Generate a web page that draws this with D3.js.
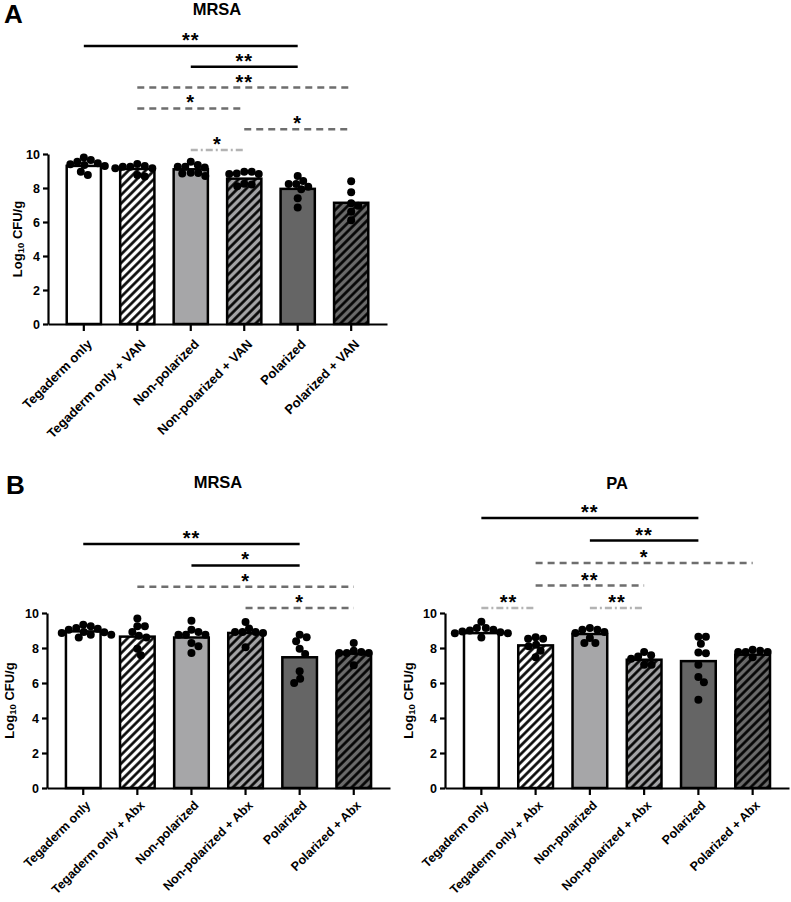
<!DOCTYPE html>
<html><head><meta charset="utf-8">
<script src="https://cdn.jsdelivr.net/npm/d3@7"></script>
<style>
body{margin:0;background:#fff}
svg{display:block}
text{font-family:"Liberation Sans",Arial,sans-serif;font-weight:bold;fill:#000}
</style>
</head><body>
<svg id="c" width="791" height="902"></svg>
<script>
// ---------------- data ----------------
const groupsA = ["Tegaderm only","Tegaderm only + VAN","Non-polarized","Non-polarized + VAN","Polarized","Polarized + VAN"];
const groupsB = ["Tegaderm only","Tegaderm only + Abx","Non-polarized","Non-polarized + Abx","Polarized","Polarized + Abx"];
const yTicks = [0,2,4,6,8,10];

const meansA = [9.3, 9.12, 9.1, 8.55, 7.95, 7.13];
const pointsA = [
  [9.65,9.55,9.45,9.35,9.4,9.8,8.96,8.76,9.3],
  [9.16,9.41,9.25,9.29,9.25,9.16,8.67,8.76],
  [9.25,9.35,9.55,9.2,8.7,8.85,8.88,8.9,9.25],
  [8.96,8.86,8.82,8.82,8.96,8.1,8.2,8.25],
  [8.71,8.41,8.24,8.24,8.08,7.92,7.39,6.86],
  [8.4,7.75,7.1,6.95,6.6,6.1]
];
const meansBMRSA = [8.95, 8.65, 8.6, 8.86, 7.47, 7.68];
const pointsBMRSA = [
  [9.33,9.05,8.76,8.91,8.86,8.76,9.14,9.24,8.6,9.1,8.9],
  [9.68,9.24,8.91,8.7,9.24,8.6,7.96,7.58],
  [9.56,9.05,8.76,8.76,8.76,8.91,7.71,8.29,8.1],
  [9.49,9.11,8.91,8.86,8.91,8.91,8.04],
  [8.61,8.76,8.38,7.96,7.66,6.67,6.25,6.0],
  [8.29,7.77,7.71,7.71,7.71,7.85,7.01]
];
const meansBPA = [8.85, 8.15, 8.8, 7.33, 7.25, 7.62];
const pointsBPA = [
  [9.5,9.05,8.9,9.15,9.0,8.85,9.15,8.6,8.85,8.95],
  [8.53,8.61,8.53,8.1,8.19,7.85,7.47],
  [9.14,9.05,8.86,9.05,8.91,8.29,8.29,8.57],
  [7.52,7.39,7.58,7.77,7.05,7.05],
  [8.65,8.65,8.25,7.7,7.75,7.05,6.35,6.05,5.05],
  [7.9,7.77,7.77,7.77,7.85,7.47]
];
// significance: [from group, to group, label, line style, stacking row]
const sigA = [
  [0,4,"**","solid",5],
  [2,4,"**","solid",4],
  [1,5,"**","dash",3],
  [1,3,"*","dash",2],
  [3,5,"*","dash",1],
  [2,3,"*","dashdot",0]
];
const sigBMRSA = [
  [0,4,"**","solid",3],
  [2,4,"*","solid",2],
  [1,5,"*","dash",1],
  [3,5,"*","dash",0]
];
const sigBPA = [
  [0,4,"**","solid",4],
  [2,4,"**","solid",3],
  [1,5,"*","dash",2],
  [1,3,"**","dash",1],
  [0,1,"**","dashdot",0],
  [2,3,"**","dashdot",0]
];

// ---------------- drawing ----------------
const svg = d3.select("#c");
const defs = svg.append("defs");
function stripe(id, bg){
  const p = defs.append("pattern").attr("id",id).attr("patternUnits","userSpaceOnUse")
    .attr("width",6).attr("height",6).attr("patternTransform","rotate(45)");
  p.append("rect").attr("width",6).attr("height",6).attr("fill",bg);
  p.append("line").attr("x1",1.5).attr("y1",-1).attr("x2",1.5).attr("y2",7)
    .attr("stroke","#000").attr("stroke-width",2.6);
}
stripe("stW","#ffffff");
stripe("stL","#a3a3a5");
stripe("stD","#6a6a6a");
const fills = ["#ffffff","url(#stW)","#a6a6a8","url(#stL)","#656565","url(#stD)"];
const lineStyles = {
  solid:{stroke:"#000", dash:null},
  dash:{stroke:"#6e6e6e", dash:"7,5"},
  dashdot:{stroke:"#b3b3b3", dash:"7,3,2,3"}
};

function swarm(vals, y, cx, r){
  const pts = vals.map(v=>({v, y:y(v)}));
  const order = pts.slice().sort((a,b)=>a.y-b.y);
  const placed = [];
  const minD = 2*r*0.92;
  for(const p of order){
    let best = null;
    for(let k=0;k<=80 && best===null;k++){
      const offs = k===0?[0]:[k*0.5,-k*0.5];
      for(const o of offs){
        if(placed.every(q=>Math.hypot(q.x-(cx+o), q.y-p.y) >= minD)){best=o;break;}
      }
    }
    p.x = cx + (best===null?0:best);
    placed.push(p);
  }
  return pts;
}

const panels = [
  {groups:groupsA, means:meansA, points:pointsA, sig:sigA, x0:48, x1:387, yB:324, yT:154, xfs:13, xoff:[9,21],
   sigBase:150, sigStep:20.8, title:"MRSA", tx:217, ty:14, ylx:17, letter:"A", lx:4, ly:23},
  {groups:groupsB, means:meansBMRSA, points:pointsBMRSA, sig:sigBMRSA, x0:47, x1:390, yB:788, yT:613, xfs:12.5, xoff:[8,18],
   sigBase:608, sigStep:21.3, title:"MRSA", tx:218, ty:487, ylx:9, letter:"B", lx:6, ly:494},
  {groups:groupsB, means:meansBPA, points:pointsBPA, sig:sigBPA, x0:445, x1:789, yB:788, yT:613, xfs:12.5, xoff:[8,18],
   sigBase:608, sigStep:22.5, title:"PA", tx:617, ty:488, ylx:408}
];

panels.forEach(P=>{
  const g = svg.append("g");
  const x = d3.scaleBand().domain(P.groups).range([P.x0,P.x1]).paddingInner(0.36).paddingOuter(0.35);
  const y = d3.scaleLinear().domain([0,10]).range([P.yB,P.yT]);

  // bars
  g.selectAll("rect.bar").data(P.means).join("rect").attr("class","bar")
    .attr("x",(d,i)=>x(P.groups[i])).attr("width",x.bandwidth())
    .attr("y",d=>y(d)).attr("height",d=>y(0)-y(d))
    .attr("fill",(d,i)=>fills[i]).attr("stroke","#000").attr("stroke-width",2.5);

  // axes
  const ya = g.append("g").attr("transform",`translate(${P.x0},0)`)
    .call(d3.axisLeft(y).tickValues(yTicks).tickSize(5).tickSizeOuter(0).tickPadding(3).tickFormat(d3.format("d")));
  const xa = g.append("g").attr("transform",`translate(0,${P.yB})`)
    .call(d3.axisBottom(x).tickSize(7).tickSizeOuter(0));
  [ya,xa].forEach(a=>{
    a.select(".domain").attr("stroke","#000").attr("stroke-width",2.2);
    a.selectAll(".tick line").attr("stroke","#000").attr("stroke-width",2.2);
  });
  ya.selectAll("text").style("font-size","12.5px").style("font-family","Liberation Sans, Arial, sans-serif").style("font-weight","bold");
  xa.selectAll(".tick text").attr("x",0).attr("y",0).attr("dy",0)
    .attr("text-anchor","end").attr("transform",`translate(${P.xoff[0]},${P.xoff[1]}) rotate(-45)`)
    .style("font-size",P.xfs+"px").style("font-family","Liberation Sans, Arial, sans-serif").style("font-weight","bold");

  // dots
  P.points.forEach((vals,i)=>{
    const cx = x(P.groups[i]) + x.bandwidth()/2;
    const pts = swarm(vals, y, cx, 4);
    g.selectAll(null).data(pts).join("circle")
      .attr("cx",d=>d.x).attr("cy",d=>d.y).attr("r",4).attr("fill","#000");
  });

  // significance
  P.sig.forEach(([a,b,lab,st,row])=>{
    const xa1 = x(P.groups[a]) + x.bandwidth()/2;
    const xb1 = x(P.groups[b]) + x.bandwidth()/2;
    const ly = P.sigBase - row*P.sigStep;
    const s = lineStyles[st];
    const ln = g.append("line").attr("x1",xa1).attr("x2",xb1).attr("y1",ly).attr("y2",ly)
      .attr("stroke",s.stroke).attr("stroke-width",2.5);
    if(s.dash) ln.attr("stroke-dasharray",s.dash);
    g.append("text").attr("x",(xa1+xb1)/2).attr("y",ly+1).attr("text-anchor","middle")
      .style("font-size","20px").style("letter-spacing","1px").text(lab);
  });

  // y label
  const yl = g.append("text").attr("transform",`translate(${P.ylx},${(P.yB+P.yT)/2}) rotate(-90)`)
    .attr("text-anchor","middle").attr("dominant-baseline","central").style("font-size","13px");
  yl.append("tspan").text("Log");
  yl.append("tspan").text("10").style("font-size","9.5px").attr("dy",3);
  yl.append("tspan").text(" CFU/g").attr("dy",-3);

  // title
  g.append("text").attr("x",P.tx).attr("y",P.ty+1).attr("text-anchor","middle").style("font-size","16.5px").text(P.title);
  if(P.letter) g.append("text").attr("x",P.lx).attr("y",P.ly).style("font-size","26px").text(P.letter);
});
</script>
</body></html>
